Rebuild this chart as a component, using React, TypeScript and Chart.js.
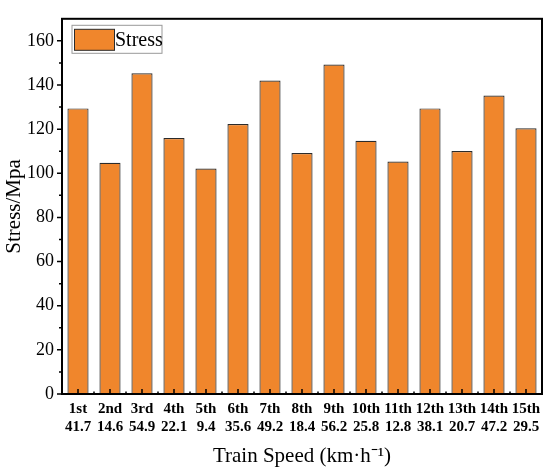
import React, { useEffect, useRef } from "react";
import { Chart, registerables } from "chart.js";

Chart.register(...registerables);

// Data
const ordinals = ["1st", "2nd", "3rd", "4th", "5th", "6th", "7th", "8th", "9th", "10th", "11th", "12th", "13th", "14th", "15th"];
const speeds = ["41.7", "14.6", "54.9", "22.1", "9.4", "35.6", "49.2", "18.4", "56.2", "25.8", "12.8", "38.1", "20.7", "47.2", "29.5"];
const stress = [129.4, 104.8, 145.3, 116.0, 102.2, 122.3, 142.0, 109.2, 149.3, 114.7, 105.3, 129.4, 110.1, 135.2, 120.4];
const yTicks = [0, 20, 40, 60, 80, 100, 120, 140, 160];

const FONT = '"Liberation Serif", "Times New Roman", serif';
const BAR_FILL = "#F0862C";
const BAR_EDGE = "#2b2b2b";

// box frame, tick marks and the in-plot legend
const framePlugin = {
  id: "frame",
  afterDraw(chart: any) {
    const { ctx, chartArea: a, scales } = chart;
    const x = scales.x;
    const y = scales.y;
    ctx.save();
    ctx.strokeStyle = "#000";
    ctx.lineWidth = 1.5;
    ctx.beginPath();
    // y ticks: majors and minors, outward
    yTicks.forEach((v, i) => {
      const py = y.getPixelForValue(v);
      ctx.moveTo(a.left, py);
      ctx.lineTo(a.left - 5, py);
      if (i < yTicks.length - 1) {
        const my = y.getPixelForValue((v + yTicks[i + 1]) / 2);
        ctx.moveTo(a.left, my);
        ctx.lineTo(a.left - 3, my);
      }
    });
    // x ticks: majors at bar centres, minors at category edges, inward
    ordinals.forEach((_, i) => {
      const px = x.getPixelForValue(i);
      ctx.moveTo(px, a.bottom);
      ctx.lineTo(px, a.bottom - 5);
      if (i < ordinals.length - 1) {
        const mx = (px + x.getPixelForValue(i + 1)) / 2;
        ctx.moveTo(mx, a.bottom);
        ctx.lineTo(mx, a.bottom - 2.5);
      }
    });
    ctx.stroke();

    ctx.lineWidth = 2;
    ctx.strokeRect(a.left, a.top, a.right - a.left, a.bottom - a.top);

    // legend
    const lx = a.left + 10;
    const ly = a.top + 6.5;
    ctx.lineWidth = 1;
    ctx.strokeStyle = "#999";
    ctx.fillStyle = "#fff";
    ctx.fillRect(lx, ly, 90, 28);
    ctx.strokeRect(lx, ly, 90, 28);
    ctx.fillStyle = BAR_FILL;
    ctx.fillRect(lx + 2.5, ly + 4, 40, 21);
    ctx.strokeStyle = BAR_EDGE;
    ctx.strokeRect(lx + 2.5, ly + 4, 40, 21);
    ctx.fillStyle = "#000";
    ctx.font = `20px ${FONT}`;
    ctx.textBaseline = "middle";
    ctx.fillText(chart.data.datasets[0].label, lx + 43, ly + 15);
    ctx.restore();
  },
};

const StressChart: React.FC = () => {
  const chartRef = useRef<HTMLCanvasElement>(null);

  useEffect(() => {
    if (!chartRef.current) return;
    const ctx = chartRef.current.getContext("2d");
    if (!ctx) return;
    const chart = new Chart(ctx, {
      type: "bar",
      data: {
        labels: ordinals.map((o, i) => [o, speeds[i]]),
        datasets: [
          {
            label: "Stress",
            data: stress,
            backgroundColor: BAR_FILL,
            borderColor: BAR_EDGE,
            borderWidth: 1.2,
            barPercentage: 0.66,
            categoryPercentage: 1,
          },
        ],
      },
      options: {
        animation: false,
        responsive: false,
        devicePixelRatio: 1,
        layout: { padding: { top: 7, right: 8, left: 0, bottom: 0 } },
        plugins: {
          legend: { display: false },
          tooltip: { enabled: false },
        },
        scales: {
          x: {
            grid: { display: true, drawOnChartArea: false, drawTicks: false },
            border: { display: false },
            ticks: {
              color: "#000",
              padding: 6,
              maxRotation: 0,
              autoSkip: false,
              font: { family: FONT, size: 15, weight: "bold", lineHeight: 1.22 },
            },
            title: {
              display: true,
              text: "Train Speed (km·h⁻¹)",
              color: "#000",
              font: { family: FONT, size: 21 },
              padding: { top: 0, bottom: 6 },
            },
            afterFit: (s: any) => {
              s.height = 81;
            },
          },
          y: {
            min: 0,
            max: 170,
            grid: { display: true, drawOnChartArea: false, drawTicks: false },
            border: { display: false },
            ticks: {
              color: "#000",
              padding: 8,
              font: { family: FONT, size: 18 },
            },
            afterBuildTicks: (s: any) => {
              s.ticks = yTicks.map((v) => ({ value: v }));
            },
            title: {
              display: true,
              text: "Stress/Mpa",
              color: "#000",
              font: { family: FONT, size: 21 },
              padding: { top: 2, bottom: 0 },
            },
            afterFit: (s: any) => {
              s.width = 62;
            },
          },
        },
      },
      plugins: [framePlugin],
    });
    return () => {
      chart.destroy();
    };
  }, []);

  return <canvas ref={chartRef} width={550} height={475} />;
};

export default function App() {
  return (
    <div style={{ position: "absolute", left: 0, top: 0, width: 550, height: 475, background: "#fff" }}>
      <StressChart />
    </div>
  );
}
